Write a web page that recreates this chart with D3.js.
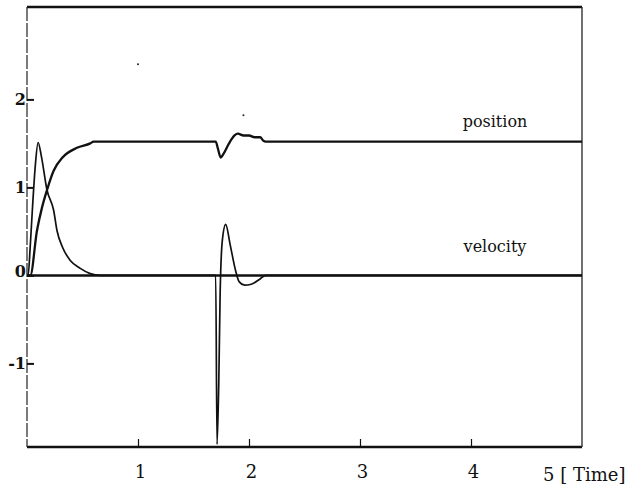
<!DOCTYPE html>
<html>
<head>
<meta charset="utf-8">
<script src="https://cdn.jsdelivr.net/npm/d3@7"></script>
<style>
  body { margin: 0; background: #fff; }
  svg text { font-family: "DejaVu Serif", "Liberation Serif", serif; fill: #111; }
</style>
</head>
<body>
<div id="chart"></div>
<script>
// values: [time, value]
var position = [
  [0, 0], [0.03, 0], [0.09, 0.51], [0.135, 0.77], [0.18, 0.97], [0.24, 1.19],
  [0.32, 1.34], [0.45, 1.45], [0.57, 1.50], [0.60, 1.52], [1.70, 1.52],
  [1.72, 1.44], [1.745, 1.34], [1.77, 1.38], [1.82, 1.50], [1.87, 1.59],
  [1.90, 1.61], [1.95, 1.59], [2.0, 1.59], [2.05, 1.57], [2.1, 1.57],
  [2.13, 1.53], [2.15, 1.52], [5, 1.52]
];
var velocity = [
  [0, 0], [0.01, 0], [0.03, 0.35], [0.05, 0.78], [0.075, 1.25], [0.10, 1.51],
  [0.13, 1.35], [0.18, 0.97], [0.24, 0.74], [0.27, 0.51], [0.32, 0.32],
  [0.39, 0.17], [0.48, 0.08], [0.57, 0.02], [0.66, 0], [1.70, 0],
  [1.712, -1.92], [1.728, -1.2], [1.74, -0.2], [1.76, 0.4], [1.79, 0.58],
  [1.83, 0.35], [1.88, 0.05], [1.91, -0.07], [1.96, -0.11], [2.02, -0.10],
  [2.1, -0.04], [2.15, 0], [5, 0]
];
var xTicks = [1, 2, 3, 4];
var yTicks = [-1, 0, 1, 2];
var seriesLabels = [["position", 1.69], ["velocity", 0.265]];
var xLabel = "5 [ Time]";
var specks = [[1.0, 2.40], [1.95, 1.82]];

var width = 640, height = 487;
var svg = d3.select("#chart").append("svg")
  .attr("width", width).attr("height", height);

var x = d3.scaleLinear().domain([0, 5]).range([27, 582]);
var y = d3.scaleLinear().domain([-1.95, 3.05]).range([447, 7]);

// frame
svg.append("line").attr("x1", x(0)).attr("x2", x(5)).attr("y1", y(3.05)).attr("y2", y(3.05))
  .attr("stroke", "#111").attr("stroke-width", 2.5);
svg.append("line").attr("x1", x(0)).attr("x2", x(5)).attr("y1", y(-1.95)).attr("y2", y(-1.95))
  .attr("stroke", "#111").attr("stroke-width", 2.5);
svg.append("line").attr("x1", x(0)).attr("x2", x(0)).attr("y1", y(3.05)).attr("y2", y(-1.95))
  .attr("stroke", "#222").attr("stroke-width", 1.2).attr("stroke-dasharray", "14,2");
svg.append("line").attr("x1", x(5)).attr("x2", x(5)).attr("y1", y(3.05)).attr("y2", y(-1.95))
  .attr("stroke", "#222").attr("stroke-width", 1.3);

// axes, ticks pointing inward
var yAxis = svg.append("g").attr("transform", "translate(" + x(0) + ",0)")
  .call(d3.axisLeft(y).tickValues(yTicks).tickSize(-7).tickPadding(1)
    .tickFormat(function (d) { return String(d); }));
yAxis.attr("font-family", null);
yAxis.select(".domain").remove();
yAxis.selectAll("line").attr("stroke", "#111").attr("stroke-width", 2);
yAxis.selectAll("text").attr("font-size", 16).attr("font-weight", "bold")
  .attr("dy", function (d) { return d == 0 ? "0.05em" : "0.32em"; });

var xAxis = svg.append("g").attr("transform", "translate(0," + y(-1.95) + ")")
  .call(d3.axisBottom(x).tickValues(xTicks).tickSize(-8).tickPadding(18)
    .tickFormat(function (d) { return String(d); }));
xAxis.attr("font-family", null);
xAxis.select(".domain").remove();
xAxis.selectAll("line").attr("stroke", "#111").attr("stroke-width", 1.2);
xAxis.selectAll("text").attr("font-size", 18).attr("dx", 2);

svg.append("text").attr("x", 543).attr("y", 481).attr("font-size", 18)
  .text(xLabel);

// zero line
svg.append("line").attr("x1", x(0)).attr("x2", x(5)).attr("y1", y(0)).attr("y2", y(0))
  .attr("stroke", "#111").attr("stroke-width", 2.5);

var line = d3.line()
  .x(function (d) { return x(d[0]); })
  .y(function (d) { return y(d[1]); })
  .curve(d3.curveMonotoneX);

svg.append("path").datum(velocity).attr("d", line)
  .attr("fill", "none").attr("stroke", "#111").attr("stroke-width", 1.7)
  .attr("stroke-linejoin", "round");
svg.append("path").datum(position).attr("d", line)
  .attr("fill", "none").attr("stroke", "#111").attr("stroke-width", 2.3)
  .attr("stroke-linejoin", "round");

svg.selectAll(".lab").data(seriesLabels).enter().append("text")
  .attr("class", "lab")
  .attr("x", 495).attr("y", function (d) { return y(d[1]); })
  .attr("text-anchor", "middle").attr("font-size", 16)
  .text(function (d) { return d[0]; });

svg.selectAll(".speck").data(specks).enter().append("circle")
  .attr("cx", function (d) { return x(d[0]); })
  .attr("cy", function (d) { return y(d[1]); })
  .attr("r", 1).attr("fill", "#222");
</script>
</body>
</html>
